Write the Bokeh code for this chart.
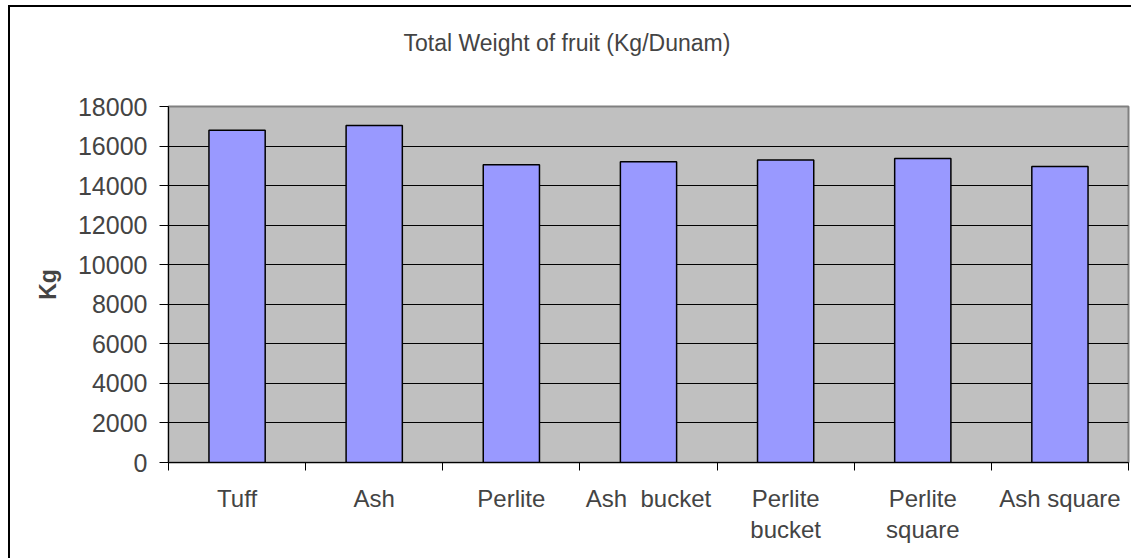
from bokeh.plotting import figure
from bokeh.models import Range1d, FixedTicker, ColumnDataSource, Title
from bokeh.embed import file_html
from bokeh.resources import INLINE

title_text = "Total Weight of fruit (Kg/Dunam)"
categories = ["Tuff", "Ash", "Perlite", "Ash \u00a0bucket", "Perlite\nbucket", "Perlite\nsquare", "Ash square"]
values = [16800, 17040, 15060, 15210, 15300, 15370, 14960]
y_ticks = [0, 2000, 4000, 6000, 8000, 10000, 12000, 14000, 16000, 18000]

FONT = "Liberation Sans"

centers = [i + 0.5 for i in range(len(categories))]
src = ColumnDataSource(dict(x=centers, top=values, cat=categories))

p = figure(width=1123, height=553, output_backend="svg", toolbar_location=None,
           x_range=Range1d(0, len(categories)), y_range=Range1d(0, 18000),
           min_border_left=158, min_border_right=5, min_border_top=99, min_border_bottom=98)
p.styles = {"margin-left": "8px", "margin-top": "5px",
            "border-top": "2px solid black", "border-left": "2px solid black"}

p.background_fill_color = "#C0C0C0"
p.border_fill_color = "white"
p.outline_line_color = "#808080"
p.outline_line_width = 2

# blank spacer between the frame and the title
p.add_layout(Title(text=" ", standoff=42, text_font_size="2px"), "above")

p.title.text = title_text
p.title.text_font = FONT
p.title.text_font_size = "23px"
p.title.text_font_style = "normal"
p.title.align = "left"
p.title.offset = 235
p.title.standoff = 10

p.vbar(x="x", top="top", width=0.41, source=src, fill_color="#9999FF",
       line_color="black", line_width=1.5)

# y axis
p.yaxis.ticker = FixedTicker(ticks=y_ticks)
p.yaxis.axis_label = "Kg"
p.yaxis.axis_label_text_font = FONT
p.yaxis.axis_label_text_font_size = "23px"
p.yaxis.axis_label_text_font_style = "bold"
p.yaxis.axis_label_standoff = 14
p.yaxis.major_label_text_font = FONT
p.yaxis.major_label_text_font_size = "25px"
p.yaxis.major_label_standoff = 12
p.yaxis.major_tick_out = 9
p.yaxis.major_tick_in = 0
p.yaxis.minor_tick_line_color = None
p.yaxis.axis_line_color = "black"
p.yaxis.major_tick_line_color = "black"

# x axis: labels at centres, ticks at category boundaries
p.xaxis.ticker = FixedTicker(ticks=centers, minor_ticks=list(range(len(categories) + 1)))
p.xaxis.major_label_overrides = {c: cat for c, cat in zip(centers, categories)}
p.xaxis.major_tick_line_color = None
p.xaxis.minor_tick_out = 8
p.xaxis.minor_tick_in = 0
p.xaxis.minor_tick_line_color = "black"
p.xaxis.axis_line_color = "black"
p.xaxis.major_label_text_font = FONT
p.xaxis.major_label_text_font_size = "24px"
p.xaxis.major_label_text_line_height = 1.18
p.xaxis.major_label_standoff = 14

p.xgrid.grid_line_color = None
p.ygrid.ticker = FixedTicker(ticks=y_ticks[1:-1])
p.ygrid.grid_line_color = "black"
p.ygrid.grid_line_width = 1

open("out.html", "w").write(file_html(p, INLINE))
